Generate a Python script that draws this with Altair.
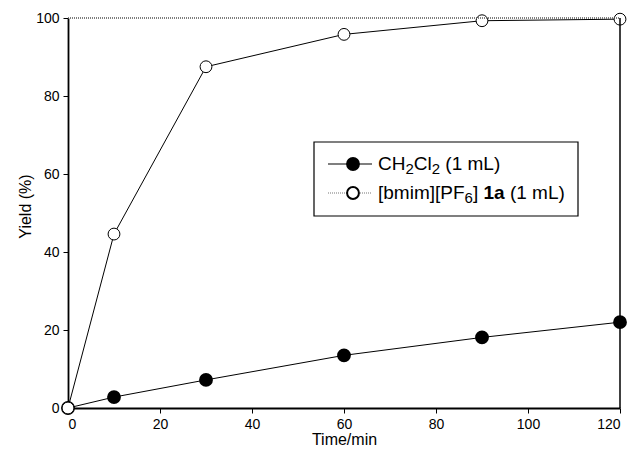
import altair as alt
import pandas as pd

# ---- data ----
time_min = [0, 10, 30, 60, 90, 120]
yield_ch2cl2 = [0, 2.8, 7.2, 13.5, 18.1, 22.0]
yield_bmim = [0, 44.6, 87.5, 95.8, 99.3, 99.7]

x_ticks = [0, 20, 40, 60, 80, 100, 120]
y_ticks = [0, 20, 40, 60, 80, 100]

W, H = 552, 390
FONT = "Liberation Sans"

df = pd.DataFrame({
    "t": time_min * 2,
    "y": yield_ch2cl2 + yield_bmim,
    "s": ["CH2Cl2"] * len(time_min) + ["bmim"] * len(time_min),
})
df_a = df[df.s == "CH2Cl2"]
df_b = df[df.s == "bmim"]
one = pd.DataFrame({"k": [0]})

xs = alt.X("t:Q", scale=alt.Scale(domain=[0, 120], nice=False, zero=False),
           axis=alt.Axis(values=x_ticks, title="Time/min", format="d",
                         titleBaseline="alphabetic", titleY=36))
ys = alt.Y("y:Q", scale=alt.Scale(domain=[0, 100], nice=False),
           axis=alt.Axis(values=y_ticks, title="Yield (%)", format="d",
                         titleX=-35, titleY=188))

line_a = alt.Chart(df_a).mark_line(color="black", strokeWidth=1).encode(x=xs, y=ys)
line_b = alt.Chart(df_b).mark_line(color="black", strokeWidth=1).encode(x=xs, y=ys)
pts_a = alt.Chart(df_a).mark_point(filled=True, fill="black", stroke="black", size=140,
                                   opacity=1, shape="circle").encode(x=xs, y=ys)
pts_b = alt.Chart(df_b).mark_point(filled=True, fill="white", stroke="black", strokeWidth=1,
                                   size=140, opacity=1, shape="circle").encode(x=xs, y=ys)

# frame: top dotted, right solid
top_rule = alt.Chart(one).mark_rule(color="#555555", strokeWidth=1.5, strokeDash=[1, 1]).encode(
    x=alt.value(0), x2=alt.value(W), y=alt.value(0))
right_rule = alt.Chart(one).mark_rule(color="black", strokeWidth=1.5).encode(
    x=alt.value(W), y=alt.value(0), y2=alt.value(H))

# ---- legend (drawn manually for sub-scripts) ----
AW = {"C": 722, "H": 722, "l": 222, "2": 556, "6": 556, " ": 278, "(": 333, ")": 333,
      "1": 556, "m": 833, "L": 556, "[": 278, "]": 278, "b": 556, "i": 222, "P": 667,
      "F": 611, "a": 556}


def tw(s, size):
    return sum(AW.get(c, 556) for c in s) * size / 1000.0


FS, SS = 19, 15
box = alt.Chart(one).mark_rect(fill="white", stroke="black", strokeWidth=1.2).encode(
    x=alt.value(246), x2=alt.value(510), y=alt.value(124), y2=alt.value(198))
leg_layers = [box]
rows = [
    (146, [("CH", False, False), ("2", True, False), ("Cl", False, False), ("2", True, False),
           (" ", False, False), ("(1 mL)", False, False)], "black", None, True),
    (175, [("[bmim][PF", False, False), ("6", True, False), ("]", False, False),
           (" ", False, False), ("1a", False, True), (" ", False, False),
           ("(1 mL)", False, False)], "#777777", [1, 1], False),
]
for yy, parts, lc, dash, filled in rows:
    rule_kwargs = dict(color=lc, strokeWidth=1.2)
    if dash:
        rule_kwargs["strokeDash"] = dash
    leg_layers.append(alt.Chart(one).mark_rule(**rule_kwargs).encode(
        x=alt.value(260), x2=alt.value(304), y=alt.value(yy)))
    leg_layers.append(alt.Chart(one).mark_point(
        filled=True, fill="black" if filled else "white", stroke="black", size=140,
        opacity=1, shape="circle").encode(x=alt.value(285), y=alt.value(yy)))
    cx = 310.0
    for txt, sub, bold in parts:
        size = SS if sub else FS
        if txt.strip():
            leg_layers.append(alt.Chart(one).mark_text(
                text=txt, align="left", baseline="middle", font=FONT, fontSize=size,
                fontWeight="bold" if bold else "normal", color="black").encode(
                x=alt.value(cx), y=alt.value(yy + (5 if sub else 0))))
        cx += tw(txt, size)

chart = alt.layer(line_a, line_b, pts_a, pts_b, top_rule, right_rule, *leg_layers).properties(
    width=W, height=H,
    autosize=alt.AutoSizeParams(type="none"),
    padding={"left": 60, "top": 10, "right": 12, "bottom": 41},
).configure_view(stroke=None).configure_axis(
    grid=False, domainColor="black", domainWidth=1.8, tickColor="black", tickWidth=1,
    tickSize=5, labelFont=FONT, labelFontSize=14, labelColor="black", labelPadding=4,
    titleFont=FONT, titleFontSize=16, titleFontWeight="normal", titleColor="black",
)

chart.save("out.html", embed_options={"renderer": "svg", "actions": False})
